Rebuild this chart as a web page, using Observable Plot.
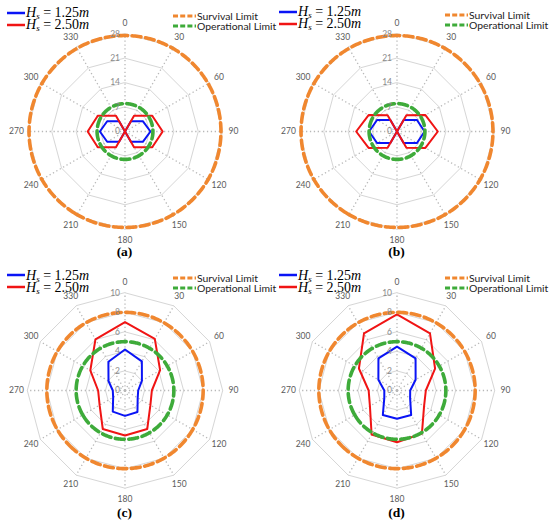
<!DOCTYPE html>
<html><head><meta charset="utf-8">
<script src="https://cdn.jsdelivr.net/npm/d3@7"></script>
<script src="https://cdn.jsdelivr.net/npm/@observablehq/plot@0.6"></script>
<style>
body{margin:0;background:#fff;}
#wrap{position:relative;width:550px;height:528px;overflow:hidden;background:#fff;}
.panel{position:absolute;width:275px;height:262px;}
.panel svg.plot{position:absolute;left:0;top:0;overflow:visible;}
.sw{position:absolute;overflow:visible;}
.mt{position:absolute;font-family:"Liberation Serif",serif;font-size:14px;color:#000;white-space:nowrap;line-height:11px;}
.mt sub{font-size:9px;vertical-align:-2px;line-height:0;}
.lt{position:absolute;font-family:Lato,"Liberation Sans",sans-serif;font-size:10.4px;color:#222;white-space:nowrap;line-height:10px;}
.cap{position:absolute;width:100%;text-align:center;font-family:"Liberation Serif",serif;font-weight:bold;font-size:13.5px;left:0;line-height:13px;}
</style></head>
<body><div id="wrap"></div>
<script>
// ---- data ----
const directions = [0, 30, 60, 90, 120, 150, 180, 210, 240, 270, 300, 330];
const ticksTop = [0, 7, 14, 21, 28];
const ticksBottom = [0, 2, 4, 6, 8, 10];
const seriesValues = ["1.25", "2.50"];
const limitNames = ["Survival Limit", "Operational Limit"];
const panelLabels = ["(a)", "(b)", "(c)", "(d)"];

const blueA = [0, 3.4, 5.9, 7.3, 5.9, 3.4, 0, 3.4, 5.9, 7.2, 5.9, 3.4];
const redA  = [0, 5.2, 9.0, 10.8, 9.0, 5.2, 0, 5.2, 9.0, 10.7, 9.0, 5.2];
const blueB = [0, 3.8, 6.6, 7.9, 6.6, 3.8, 0, 3.8, 6.6, 8.0, 6.6, 3.8];
const redB  = [0, 5.4, 9.4, 11.7, 9.4, 5.4, 0, 5.4, 9.4, 11.7, 9.4, 5.4];
const blueC = [4.2, 3.45, 2.0, 1.35, 1.5, 2.55, 2.6, 2.5, 1.4, 1.25, 1.95, 3.4];
const redC  = [7.0, 6.1, 4.15, 2.75, 3.0, 4.55, 4.6, 4.55, 3.0, 2.75, 4.1, 6.05];
const blueD = [4.5, 3.8, 2.2, 1.35, 1.55, 2.9, 2.9, 2.9, 1.5, 1.3, 2.2, 3.8];
const redD  = [7.8, 6.75, 4.5, 2.95, 3.2, 5.1, 5.3, 5.2, 3.2, 2.9, 4.5, 6.75];

const survivalTop = 27.5, operationalTop = 8;
const survivalBottom = 8, operationalBottom = 5;

const colors = {blue: "#0a14f5", red: "#f01414", orange: "#f0872f", green: "#3eab3a"};

const panels = [
  {label: panelLabels[0], left: 0,   top: 0,   ticks: ticksTop,    blue: blueA, red: redA, surv: survivalTop,    oper: operationalTop,    legDy: 0,  capY: 245},
  {label: panelLabels[1], left: 272, top: 0,   ticks: ticksTop,    blue: blueB, red: redB, surv: survivalTop,    oper: operationalTop,    legDy: -1, capY: 245},
  {label: panelLabels[2], left: 0,   top: 259, ticks: ticksBottom, blue: blueC, red: redC, surv: survivalBottom, oper: operationalBottom, legDy: 3.5, capY: 247},
  {label: panelLabels[3], left: 272, top: 259, ticks: ticksBottom, blue: blueD, red: redD, surv: survivalBottom, oper: operationalBottom, legDy: 3.5, capY: 247}
];

const W = 275, H = 262, CX = 124.5, CY = 131, R = 97.7;

function makePanel(p) {
  const maxT = p.ticks[p.ticks.length - 1];
  const k = 60 / maxT;                      // value -> degrees of arc
  const lon = (a) => 180 - a;               // clockwise from top
  const lat = (v) => 90 - v * k;
  const labelR = maxT * 108.5 / R;

  const rings = p.ticks.filter(t => t > 0).flatMap(t => directions.map(d => ({t, d})));
  const pts = (arr) => directions.map((d, i) => ({d, v: arr[i]}));

  const svg = Plot.plot({
    width: W, height: H,
    marginLeft: CX - R, marginRight: W - CX - R,
    marginTop: CY - R, marginBottom: H - CY - R,
    projection: {
      type: "azimuthal-equidistant",
      rotate: [0, -90],
      clip: false,
      domain: d3.geoCircle().center([0, 90]).radius(maxT * k).precision(1)()
    },
    style: {fontFamily: "Lato, 'Liberation Sans', sans-serif", background: "transparent", overflow: "visible"},
    marks: [
      Plot.line(rings, {x: d => lon(d.d), y: d => lat(d.t), z: "t", curve: "linear-closed", stroke: "#d6d6d6", strokeWidth: 1}),
      Plot.link(directions, {x1: d => lon(d), y1: 90, x2: d => lon(d), y2: lat(maxT), curve: "linear", stroke: "#b8b8b8", strokeWidth: 1.3, strokeDasharray: "1.3,2.6"}),
      Plot.line(pts(p.blue), {x: d => lon(d.d), y: d => lat(d.v), curve: "linear-closed", stroke: colors.blue, strokeWidth: 2}),
      Plot.line(pts(p.red), {x: d => lon(d.d), y: d => lat(d.v), curve: "linear-closed", stroke: colors.red, strokeWidth: 2}),
      Plot.geo([d3.geoCircle().center([0, 90]).radius(p.surv * k).precision(1)()], {fill: "none", stroke: colors.orange, strokeWidth: 3.6, strokeDasharray: "9,4.5"}),
      Plot.geo([d3.geoCircle().center([0, 90]).radius(p.oper * k).precision(1)()], {fill: "none", stroke: colors.green, strokeWidth: 3.6, strokeDasharray: "9,4.5"}),
      Plot.text(p.ticks, {x: () => 180, y: t => lat(t), text: t => String(t), dx: -5, textAnchor: "end", fill: "#8a8a8a", fontSize: 8.5}),
      Plot.text(directions, {x: d => lon(d), y: () => lat(labelR), text: d => String(d), fill: "#5a5a5a", fontSize: 8.5})
    ]
  });
  svg.classList.add("plot");

  const div = document.createElement("div");
  div.className = "panel";
  div.style.left = p.left + "px";
  div.style.top = p.top + "px";
  div.appendChild(svg);

  const ly = p.legDy;
  const sw = (x, y, color, dash, width) =>
    `<svg class="sw" style="left:${x}px;top:${y - 3}px" width="26" height="6"><line x1="0" y1="3" x2="${width}" y2="3" stroke="${color}" stroke-width="${dash ? 3 : 2.5}" ${dash ? 'stroke-dasharray="5,2.2"' : ''}/></svg>`;
  const math = (val) => `<i>H</i><sub><i>s</i></sub> = ${val}<i>m</i>`;
  let html = "";
  html += sw(7, 12.5 + ly, colors.blue, false, 18);
  html += `<div class="mt" style="left:26px;top:${7 + ly}px">${math(seriesValues[0])}</div>`;
  html += sw(7, 24.5 + ly, colors.red, false, 18);
  html += `<div class="mt" style="left:26px;top:${19 + ly}px">${math(seriesValues[1])}</div>`;
  html += sw(173, 15.5 + ly, colors.orange, true, 23);
  html += `<div class="lt" style="left:197px;top:${10.5 + ly}px">${limitNames[0]}</div>`;
  html += sw(173, 25.5 + ly, colors.green, true, 23);
  html += `<div class="lt" style="left:197px;top:${20.5 + ly}px">${limitNames[1]}</div>`;
  html += `<div class="cap" style="top:${p.capY}px;margin-left:${CX - W / 2}px">${p.label}</div>`;
  div.insertAdjacentHTML("beforeend", html);
  return div;
}

const wrap = document.getElementById("wrap");
panels.forEach(p => wrap.appendChild(makePanel(p)));
</script>
</body></html>
